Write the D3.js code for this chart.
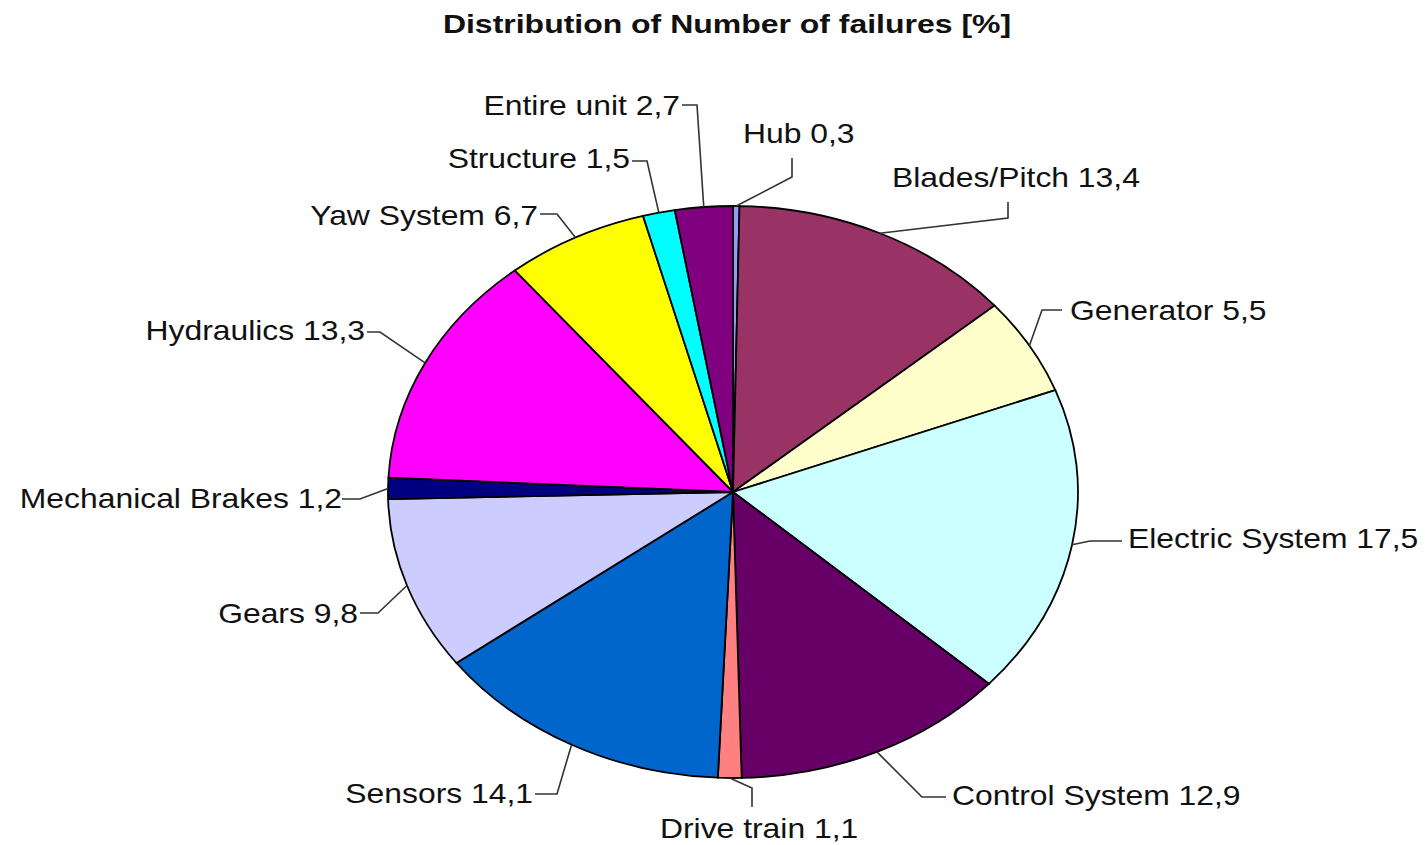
<!DOCTYPE html>
<html><head><meta charset="utf-8">
<script src="https://cdn.jsdelivr.net/npm/d3@7"></script>
<style>html,body{margin:0;padding:0;background:#fff;}svg{display:block;}</style>
</head><body>
<svg id="c" width="1427" height="845"></svg>
<script>
const categories = ["Hub","Blades/Pitch","Generator","Electric System","Control System","Drive train","Sensors","Gears","Mechanical Brakes","Hydraulics","Yaw System","Structure","Entire unit"];
const values = [0.3,13.4,5.5,17.5,12.9,1.1,14.1,9.8,1.2,13.3,6.7,1.5,2.7];
const valueLabels = ["0,3","13,4","5,5","17,5","12,9","1,1","14,1","9,8","1,2","13,3","6,7","1,5","2,7"];
const colors = ["#9999FF","#993366","#FFFFCC","#CCFFFF","#660066","#FF8080","#0066CC","#CCCCFF","#000080","#FF00FF","#FFFF00","#00FFFF","#800080"];
const title = "Distribution of Number of failures [%]";

// layout: label anchor (x, baseline y, anchor) and leader elbow points
const labelLayout = [
  {x:743, y:143, a:"start", pts:[[792,158],[792,177]]},
  {x:892, y:187, a:"start", pts:[[1008,202],[1008,218]]},
  {x:1070,y:320, a:"start", pts:[[1062,310],[1042,310]]},
  {x:1128,y:548, a:"start", pts:[[1122,541],[1090,541]]},
  {x:952, y:805, a:"start", pts:[[946,797],[922,797]]},
  {x:660, y:838, a:"start", pts:[[752,807],[752,788]]},
  {x:533, y:803, a:"end",   pts:[[535,794],[557,794]]},
  {x:358, y:623, a:"end",   pts:[[360,613],[378,613]]},
  {x:342, y:508, a:"end",   pts:[[342,499],[360,499]]},
  {x:365, y:340, a:"end",   pts:[[367,332],[380,332]]},
  {x:538, y:225, a:"end",   pts:[[540,214],[557,214]]},
  {x:630, y:168, a:"end",   pts:[[632,161],[647,161]]},
  {x:680, y:115, a:"end",   pts:[[682,105],[697,105]]}
];

const cx = 733, cy = 492, rx = 345, ry = 286;
const svg = d3.select("#c");

svg.append("text")
  .attr("transform", `translate(${727},${33}) scale(1.23,1)`)
  .attr("text-anchor","middle")
  .attr("font-family","Liberation Sans, Arial, sans-serif")
  .attr("font-weight","bold")
  .attr("font-size",26)
  .attr("fill","#111")
  .text(title);

const data = categories.map((c,i)=>({name:c, value:values[i], label:valueLabels[i], color:colors[i], lay:labelLayout[i]}));
const pie = d3.pie().value(d=>d.value).sort(null);
const arcs = pie(data);
const arc = d3.arc().innerRadius(0).outerRadius(ry);

const g = svg.append("g").attr("transform",`translate(${cx},${cy}) scale(${rx/ry},1)`);
g.selectAll("path").data(arcs).join("path")
  .attr("d", arc)
  .attr("fill", d=>d.data.color)
  .attr("stroke","#000")
  .attr("stroke-width",1.8)
  .attr("vector-effect","non-scaling-stroke");

// leader lines
const edge = a => { const m=(a.startAngle+a.endAngle)/2; return [cx+rx*Math.sin(m), cy-ry*Math.cos(m)]; };
const line = d3.line();
svg.append("g").selectAll("path").data(arcs).join("path")
  .attr("d", d=>line([...d.data.lay.pts, edge(d)]))
  .attr("fill","none")
  .attr("stroke","#333")
  .attr("stroke-width",1.6);

svg.append("g").selectAll("text").data(arcs).join("text")
  .attr("transform", d=>`translate(${d.data.lay.x},${d.data.lay.y}) scale(1.18,1)`)
  .attr("text-anchor", d=>d.data.lay.a)
  .attr("font-family","Liberation Sans, Arial, sans-serif")
  .attr("font-size",27)
  .attr("fill","#111")
  .text(d=>`${d.data.name} ${d.data.label}`);
</script>
</body></html>
